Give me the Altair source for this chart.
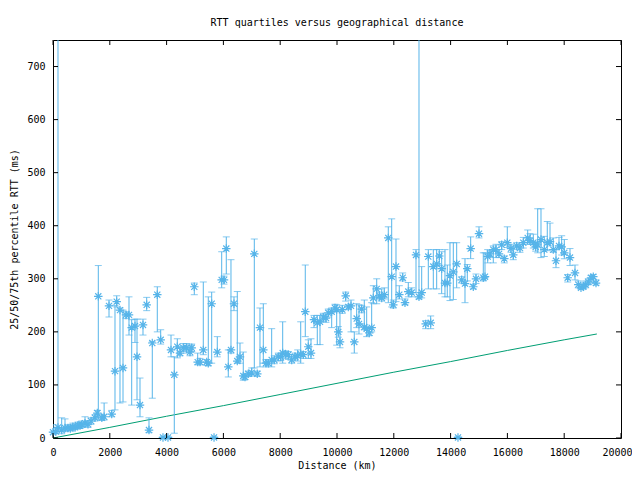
import altair as alt
import pandas as pd

# ---- data (km, ms) ----
dist = [0, 100, 176, 306, 423, 528, 610, 700, 775, 880, 950, 1010, 1127, 1232, 1338, 1479,
        1560, 1595, 1720, 1800, 1972, 2067, 2183, 2243, 2359, 2465, 2570, 2676, 2771, 2887,
        2958, 3063, 3169, 3299, 3380, 3496, 3672, 3792, 3873, 4049, 4155, 4271, 4377, 4472,
        4588, 4708, 4824, 4884, 4975, 5095, 5176, 5292, 5412, 5468, 5588, 5670, 5785, 5940,
        6021, 6102, 6172, 6267, 6373, 6489, 6584, 6700,
        6760, 6877, 6996, 7088, 7193, 7288, 7405, 7500, 7581, 7700, 7792, 7933, 8017, 8088,
        8193, 8285, 8405, 8521, 8616, 8722, 8813, 8883, 8989, 9084, 9190, 9306, 9401, 9517,
        9612, 9693, 9813, 9929,
        9989, 10046, 10105, 10186, 10306, 10398, 10493, 10609, 10693, 10774, 10869, 10961,
        11045, 11137, 11221, 11278, 11398, 11489, 11574, 11665, 11806, 11926, 11982, 12077,
        12193, 12313, 12394, 12510, 12630, 12782, 12887, 12982, 13123, 13215, 13299, 13391,
        13510, 13602, 13686, 13802, 13883, 13978, 14095, 14214, 14260, 14390, 14507, 14588,
        14707, 14799, 14894, 15000, 15151, 15211, 15306, 15387, 15503, 15598, 15704, 15799,
        15891, 15996, 16126, 16207, 16327, 16443,
        16560, 16715, 16796, 16912, 16996, 17067, 17183, 17299, 17404, 17500, 17616, 17711,
        17817, 17911, 18003, 18123, 18204, 18380, 18496, 18591, 18672, 18757, 18848, 18943,
        19024, 19120]

med = [11, 12, 20, 15, 19, 19, 18, 21, 20, 24, 23, 25, 28, 26, 32, 38,
       47, 267, 38, 40, 249, 45, 126, 257, 241, 132, 232, 232, 208, 211,
       153, 62, 213, 251, 15, 179, 270, 185, 1, 1, 166, 119, 172, 160,
       170, 170, 162, 170, 285, 143, 143, 166, 143, 141, 253, 1, 162, 298,
       298, 357, 134, 166, 253, 145, 153, 117,
       115, 121, 123, 347, 121, 208, 166, 141, 141, 147, 147, 153, 153, 160,
       158, 157, 147, 153, 155, 158, 157, 238, 172, 160, 223, 217, 219, 228,
       226, 236, 238, 245,
       242, 200, 181, 242, 268, 247, 249, 181, 225, 215, 243, 209,
       206, 198, 208, 264, 281, 268, 264, 270, 377, 304, 251, 323,
       270, 302, 255, 276, 274, 345, 266, 274, 215, 342, 217, 323,
       328, 343, 319, 292, 292, 306, 313, 328, 1, 298, 291, 319,
       357, 285, 300, 385, 302, 304, 342, 347, 355, 355, 347, 364,
       338, 368, 357, 345, 362, 358,
       368, 377, 372, 368, 360, 364, 374, 355, 368, 370, 355, 334,
       362, 360, 349, 302, 340, 311, 289, 283, 285, 289, 294, 302,
       304, 292]

lo = [8, 8, 12, 8, 12, 14, 13, 15, 16, 18, 18, 20, 22, 20, 26, 32,
      40, 35, 33, 34, 228, 40, 53, 247, 66, 68, 225, 194, 62, 180,
      72, 40, 194, 240, 10, 75, 200, 177, 0, 0, 153, 9, 151, 155,
      163, 160, 155, 163, 270, 138, 138, 157, 137, 136, 141, 0, 153, 283,
      290, 309, 115, 160, 240, 141, 141, 109,
      110, 116, 117, 132, 116, 134, 141, 134, 136, 134, 140, 145, 146, 141,
      150, 148, 141, 147, 145, 141, 150, 191, 150, 150, 208, 176, 176, 220,
      218, 228, 208, 238,
      175, 190, 170, 235, 258, 242, 200, 160, 208, 196, 236, 204,
      191, 193, 200, 253, 253, 262, 258, 262, 255, 247, 245, 257,
      262, 296, 251, 266, 266, 274, 262, 264, 206, 281, 206, 281,
      281, 325, 272, 266, 266, 259, 261, 283, 0, 292, 255, 296,
      338, 281, 291, 377, 296, 302, 330, 340, 330, 340, 340, 355,
      330, 359, 350, 336, 355, 350,
      358, 365, 365, 358, 352, 349, 340, 342, 353, 362, 350, 321,
      357, 345, 338, 294, 325, 298, 283, 280, 281, 283, 289, 294,
      292, 288]

hi = [25, 18, 1500, 38, 36, 25, 24, 28, 26, 30, 28, 32, 40, 33, 38, 44,
      52, 325, 44, 66, 260, 52, 250, 268, 245, 241, 238, 266, 223, 224,
      224, 113, 224, 265, 38, 181, 285, 204, 2, 2, 194, 153, 187, 170,
      178, 178, 175, 177, 292, 160, 150, 294, 148, 266, 275, 2, 191, 351,
      305, 379, 166, 336, 266, 276, 179, 162,
      120, 126, 132, 375, 126, 245, 253, 148, 147, 206, 155, 160, 158, 219,
      164, 163, 157, 160, 166, 219, 163, 326, 185, 187, 231, 231, 231, 235,
      233, 243, 245, 252,
      251, 210, 240, 250, 275, 251, 260, 200, 253, 251, 250, 260,
      247, 206, 255, 287, 300, 275, 281, 283, 398, 413, 260, 375,
      287, 311, 262, 293, 283, 355, 1500, 323, 221, 355, 230, 355,
      355, 355, 351, 355, 326, 368, 368, 368, 2, 304, 338, 327,
      379, 289, 309, 398, 349, 349, 355, 353, 362, 365, 355, 370,
      343, 398, 365, 360, 368, 365,
      378, 392, 385, 384, 370, 432, 432, 380, 408, 405, 377, 355,
      378, 381, 374, 308, 357, 326, 296, 290, 292, 296, 300, 306,
      308, 298]

# lower-bound line (green), read at a few distances
line_km = [0, 2000, 4000, 6000, 8000, 10000, 12000, 14000, 16000, 18000, 19150]
line_ms = [0, 20, 41, 61, 82, 103, 124, 144, 165, 185, 196]

x_ticks = [0, 2000, 4000, 6000, 8000, 10000, 12000, 14000, 16000, 18000, 20000]
y_ticks = [0, 100, 200, 300, 400, 500, 600, 700]

BLUE = "#56b4e9"
GREEN = "#009e73"
FONT = "DejaVu Sans Mono"
W, H = 568, 398

df = pd.DataFrame({"dist": dist, "med": med, "lo": lo, "hi": hi})
ldf = pd.DataFrame({"dist": line_km, "rtt": line_ms})
xt = pd.DataFrame({"t": x_ticks})
yt = pd.DataFrame({"t": y_ticks})

xscale = alt.Scale(domain=[0, 20000], nice=False, zero=False)
yscale = alt.Scale(domain=[0, 750], nice=False, zero=False)

xaxis = alt.Axis(values=x_ticks, format="d", title="Distance (km)", grid=False,
                 ticks=False, domain=False, labelFont=FONT, labelFontSize=10,
                 labelColor="black", labelPadding=9, labelFlush=False,
                 labelOverlap=False, labelBound=False,
                 labelOffset=alt.ExprRef("datum.value == 20000 ? -4 : 0"),
                 titleFont=FONT, titleFontSize=10,
                 titleFontWeight="normal", titleColor="black", titlePadding=3)
yaxis = alt.Axis(values=y_ticks, format="d", title="25/50/75th percentile RTT (ms)",
                 grid=False, ticks=False, domain=False, labelFont=FONT, labelFontSize=10,
                 labelColor="black", labelPadding=8, labelFlush=False,
                 labelOverlap=False, titleFont=FONT, titleFontSize=10,
                 titleFontWeight="normal", titleColor="black", titlePadding=7)


def X(field):
    return alt.X(field, scale=xscale, axis=xaxis, title="Distance (km)")


def Y(field):
    return alt.Y(field, scale=yscale, axis=yaxis, title="25/50/75th percentile RTT (ms)")


base = alt.Chart(df)

bars = base.mark_rule(color=BLUE, strokeWidth=1, clip=True).encode(
    x=X("dist:Q"), y=Y("lo:Q"), y2="hi:Q",
)
cap_lo = base.mark_tick(color=BLUE, orient="horizontal", size=7, thickness=1,
                        clip=True).encode(x=X("dist:Q"), y=Y("lo:Q"))
cap_hi = base.mark_tick(color=BLUE, orient="horizontal", size=7, thickness=1,
                        clip=True).encode(x=X("dist:Q"), y=Y("hi:Q"))
star = "M-1,0L1,0M0,-1L0,1M-0.72,-0.72L0.72,0.72M-0.72,0.72L0.72,-0.72"
points = base.mark_point(shape=star, size=72, filled=False, color=BLUE,
                         strokeWidth=1.2, opacity=1).encode(
    x=X("dist:Q"), y=Y("med:Q"),
)

green = alt.Chart(ldf).mark_line(color=GREEN, strokeWidth=1).encode(
    x=X("dist:Q"), y=Y("rtt:Q"),
)

tick_len = 5
xt_bottom = alt.Chart(xt).mark_rule(color="black", strokeWidth=1).encode(
    x=X("t:Q"), y=alt.value(H), y2=alt.value(H - tick_len))
xt_top = alt.Chart(xt).mark_rule(color="black", strokeWidth=1).encode(
    x=X("t:Q"), y=alt.value(0), y2=alt.value(tick_len))
yt_left = alt.Chart(yt).mark_rule(color="black", strokeWidth=1).encode(
    y=Y("t:Q"), x=alt.value(0), x2=alt.value(tick_len))
yt_right = alt.Chart(yt).mark_rule(color="black", strokeWidth=1).encode(
    y=Y("t:Q"), x=alt.value(W), x2=alt.value(W - tick_len))

chart = alt.layer(
    green, bars, cap_lo, cap_hi, points, xt_bottom, xt_top, yt_left, yt_right
).properties(
    width=W, height=H,
    background="white",
    title=alt.TitleParams("RTT quartiles versus geographical distance", font=FONT,
                          fontSize=10, fontWeight="normal", color="black",
                          anchor="middle", offset=12),
    autosize=alt.AutoSizeParams(type="none"),
    padding={"left": 45, "top": 32, "right": 11, "bottom": 34},
).configure_view(
    stroke="black", strokeWidth=1
)

chart.save("out.html", embed_options={"renderer": "svg", "actions": False})
